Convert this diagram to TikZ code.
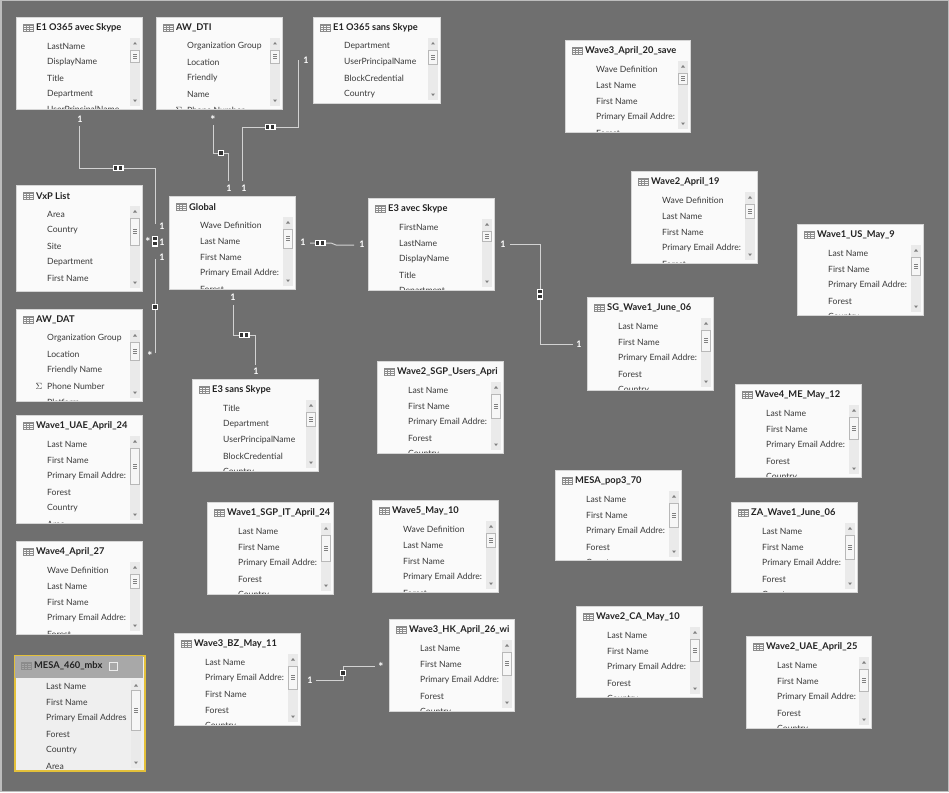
\documentclass[tikz,border=0pt]{standalone}
\usepackage{fontspec}
\setmainfont{Lato}
\usetikzlibrary{calc}
\definecolor{bgc}{HTML}{6F6F6F}
\definecolor{boxf}{HTML}{FAFAFA}
\definecolor{boxd}{HTML}{D6D6D6}
\definecolor{itc}{HTML}{3A3A3A}
\definecolor{ttc}{HTML}{222222}
\definecolor{trkc}{HTML}{EAEAEA}
\definecolor{thc}{HTML}{F6F6F6}
\definecolor{thd}{HTML}{B8B8B8}
\definecolor{lnc}{HTML}{D2D2D2}
\definecolor{mkc}{HTML}{333333}
\definecolor{yel}{HTML}{E3C03A}
\definecolor{hdr}{HTML}{A8A8A8}
\definecolor{mesaf}{HTML}{EFEFEF}
\definecolor{frc}{HTML}{BDBDBD}
\newcommand\sigm{\llap{$\Sigma$\hspace{5pt}}}
\newcommand\tblicon[2]{%
  \draw[icn] (#1,#2-3.5) rectangle ++(10,7.5);
  \fill[icnf] (#1,#2+2.2) rectangle ++(10,1.8);
  \draw[icn] (#1,#2+0.3) -- ++(10,0) (#1,#2-1.7) -- ++(10,0) (#1+3.3,#2-3.5) -- ++(0,7.5) (#1+6.6,#2-3.5) -- ++(0,7.5);}
\newcommand\scrl[4]{% right, top, height, thumb
  \fill[trkc] (#1-12,-#2-21) rectangle (#1-2,-#2-#3+3);
  \fill[gray] (#1-9,-#2-27.5) -- (#1-5,-#2-27.5) -- (#1-7,-#2-25) -- cycle;
  \fill[gray] (#1-9,-#2-#3+9.5) -- (#1-5,-#2-#3+9.5) -- (#1-7,-#2-#3+7) -- cycle;
  \draw[fill=thc,draw=thd,line width=0.7pt] (#1-11.5,-#2-33) rectangle (#1-2.5,-#2-33-#4);
  \draw[gray,line width=0.6pt] (#1-9,{-#2-33-#4/2+2}) -- ++(4,0) (#1-9,{-#2-33-#4/2}) -- ++(4,0) (#1-9,{-#2-33-#4/2-2}) -- ++(4,0);}
\newcommand\tbl[8]{%
  \node[tbox, minimum width=#4pt, minimum height=#5pt, anchor=north west] (#1) at (#2,-#3) {};
  \begin{scope}
    \clip (#2+0.5,-#3-0.5) rectangle (#2+#4-0.5,-#3-#5+0.5);
    \node[ttl] at (#2+20,-#3-11) {#6};
    \foreach \t [count=\i] in {#7} {\node[itm] at (#2+31,{-#3-13.5-16*\i}) {\t};}
  \end{scope}
  \tblicon{#2+7}{-#3-11}
  \scrl{#2+#4}{#3}{#5}{#8}}
\tikzset{
  tbox/.style={draw=boxd, fill=boxf, line width=0.8pt, inner sep=0pt},
  ttl/.style={anchor=west, inner sep=0pt, font=\fontsize{9.3}{10}\selectfont\bfseries, text=ttc},
  itm/.style={anchor=west, inner sep=0pt, font=\fontsize{8.6}{10}\selectfont, text=itc},
  icn/.style={draw=gray!90, line width=0.5pt},
  icnf/.style={fill=gray!90},
  conn/.style={draw=lnc, line width=1pt},
  lbl/.style={inner sep=0pt, text=white, font=\fontsize{9}{9}\selectfont\bfseries},
  stl/.style={inner sep=0pt, text=white, font=\fontsize{12}{12}\selectfont\bfseries, yshift=-3pt},
  pics/mkh/.style={code={\fill[white] (-5.5,-3) rectangle (5.5,3); \fill[mkc] (-4,-1.6) rectangle (-0.7,1.6); \fill[mkc] (0.7,-1.6) rectangle (4,1.6);}},
  pics/mkv/.style={code={\fill[white] (-3,-5.5) rectangle (3,5.5); \fill[mkc] (-1.6,-4) rectangle (1.6,-0.7); \fill[mkc] (-1.6,0.7) rectangle (1.6,4);}},
  pics/mks/.style={code={\fill[white] (-3.2,-3.2) rectangle (3.2,3.2); \fill[mkc] (-1.6,-1.6) rectangle (1.6,1.6);}}
}
\begin{document}
\begin{tikzpicture}[x=1pt,y=1pt]
\useasboundingbox (0,0) rectangle (949,-792);
\fill[bgc] (0,0) rectangle (949,-792);
\draw[frc, line width=1.5pt] (0.75,-0.75) rectangle (948.25,-791.25);

% tables
\tbl{e1a}{16}{17}{126}{92}{E1 O365 avec Skype}{LastName,DisplayName,Title,Department,UserPrincipalName}{12}
\tbl{awdti}{156}{17}{126}{92}{AW\_DTI}{Organization Group,Location,Friendly,Name,\sigm Phone Number}{13}
\tbl{e1s}{313}{17}{127}{86}{E1 O365 sans Skype}{Department,UserPrincipalName,BlockCredential,Country}{14}
\tbl{w3a20}{565}{40}{125}{92}{Wave3\_April\_20\_save}{Wave Definition,Last Name,First Name,Primary Email Addre:,Forest}{11}
\tbl{w2a19}{631}{171}{126}{92}{Wave2\_April\_19}{Wave Definition,Last Name,First Name,Primary Email Addre:,Forest}{14}
\tbl{w1us}{797}{224}{126}{91}{Wave1\_US\_May\_9}{Last Name,First Name,Primary Email Addre:,Forest,Country}{18}
\tbl{vxp}{16}{185}{126}{106}{VxP List}{Area,Country,Site,Department,First Name}{27}
\tbl{global}{169}{196}{126}{93}{Global}{Wave Definition,Last Name,First Name,Primary Email Addre:,Forest}{19}
\tbl{e3a}{368}{198}{126}{92}{E3 avec Skype}{FirstName,LastName,DisplayName,Title,Department}{10}
\tbl{sg}{587}{297}{126}{93}{SG\_Wave1\_June\_06}{Last Name,First Name,Primary Email Addre:,Forest,Country}{21}
\tbl{awdat}{16}{309}{126}{92}{AW\_DAT}{Organization Group,Location,Friendly Name,\sigm Phone Number,Platform}{18}
\tbl{e3s}{192}{379}{126}{92}{E3 sans Skype}{Title,Department,UserPrincipalName,BlockCredential,Country}{14}
\tbl{w2sgp}{377}{361}{126}{92}{Wave2\_SGP\_Users\_Apri}{Last Name,First Name,Primary Email Addre:,Forest,Country}{24}
\tbl{w4me}{735}{384}{126}{93}{Wave4\_ME\_May\_12}{Last Name,First Name,Primary Email Addre:,Forest,Country}{22}
\tbl{w1uae}{16}{415}{126}{108}{Wave1\_UAE\_April\_24}{Last Name,First Name,Primary Email Addre:,Forest,Country,Area}{36}
\tbl{mesap}{555}{470}{126}{90}{MESA\_pop3\_70}{Last Name,First Name,Primary Email Addre:,Forest,Country}{24}
\tbl{za}{731}{502}{126}{90}{ZA\_Wave1\_June\_06}{Last Name,First Name,Primary Email Addre:,Forest,Country}{24}
\tbl{w1sgp}{207}{502}{126}{92}{Wave1\_SGP\_IT\_April\_24}{Last Name,First Name,Primary Email Addre:,Forest,Country}{26}
\tbl{w5}{372}{500}{126}{92}{Wave5\_May\_10}{Wave Definition,Last Name,First Name,Primary Email Addre:,Forest}{14}
\tbl{w4a27}{16}{541}{126}{93}{Wave4\_April\_27}{Wave Definition,Last Name,First Name,Primary Email Addre:,Forest}{14}
\tbl{w2ca}{576}{606}{126}{91}{Wave2\_CA\_May\_10}{Last Name,First Name,Primary Email Addre:,Forest,Country}{22}
\tbl{w2uae}{746}{636}{125}{92}{Wave2\_UAE\_April\_25}{Last Name,First Name,Primary Email Addre:,Forest,Country}{22}
\tbl{bz}{174}{633}{126}{92}{Wave3\_BZ\_May\_11}{Last Name,Primary Email Addre:,First Name,Forest,Country}{23}
\tbl{hk}{389}{619}{125}{92}{Wave3\_HK\_April\_26\_wi}{Last Name,First Name,Primary Email Addre:,Forest,Country}{23}

% selected table MESA_460_mbx
\node[draw=yel, fill=mesaf, line width=2pt, inner sep=0pt, minimum width=130pt, minimum height=115pt, anchor=north west] (mesa) at (14,-655) {};
\fill[hdr] (15,-656) rectangle (143,-678);
\begin{scope}
  \clip (15,-678) rectangle (143,-769);
  \foreach \t [count=\i] in {Last Name,First Name,Primary Email Addres,Forest,Country,Area}
    {\node[itm] at (46,{-670-16*\i}) {\t};}
\end{scope}
\node[ttl] at (34,-666) {MESA\_460\_mbx};
\tblicon{21}{-666}
\draw[white!85!gray, line width=0.7pt] (109,-662) rectangle (117,-670);
\fill[trkc] (131,-680) rectangle (141,-768);
\fill[gray] (134,-686.5) -- (138,-686.5) -- (136,-684) -- cycle;
\fill[gray] (134,-761.5) -- (138,-761.5) -- (136,-764) -- cycle;
\draw[fill=thc,draw=thd,line width=0.7pt] (131.5,-690) rectangle (140.5,-730);
\draw[gray,line width=0.6pt] (134,-708) -- ++(4,0) (134,-710) -- ++(4,0) (134,-712) -- ++(4,0);

% connector end points
\coordinate (a1) at (79,-126);   \coordinate (b1) at (155,-224);
\coordinate (a2) at (213,-125);  \coordinate (b2) at (228,-181);
\coordinate (a3) at (298,-60);   \coordinate (b3) at (242,-181);
\coordinate (a4) at (310,-243);  \coordinate (b4) at (354,-245);
\coordinate (a5) at (510,-244);  \coordinate (b5) at (573,-344);
\coordinate (a6) at (233,-305);  \coordinate (b6) at (255,-365);
\coordinate (a8) at (155,-353);  \coordinate (b8) at (155,-259);
\coordinate (a9) at (316,-680);  \coordinate (b9) at (375,-666);

% connectors
\draw[conn] (a1) |- (155,-168) -- (b1);
\draw[conn] (a2) |- (228,-153) -- (b2);
\draw[conn] (a3) |- (242,-127) -- (b3);
\draw[conn] (a4) -- (331,-243) -- (336,-245) -- (b4);
\draw[conn] (a5) -| (540,-344) -- (b5);
\draw[conn] (a6) |- (255,-335) -- (b6);
\draw[conn] (a8) -- (b8);
\draw[conn] (a9) -| (343,-666) -- (b9);

% cardinality markers
\pic at (118,-168) {mkh};
\pic at (221,-153) {mks};
\pic at (270,-127) {mkh};
\pic at (320,-243) {mkh};
\pic at (540,-294) {mkv};
\pic at (244,-335) {mkh};
\pic at (155,-241) {mkv};
\pic at (155,-307) {mks};
\pic at (343,-673) {mks};

% cardinality labels
\node[lbl] (l1) at (80,-119) {1};
\node[lbl] (l2) at (162,-226) {1};
\node[stl] (l3) at (213,-117) {*};
\node[lbl] (l4) at (229,-188) {1};
\node[lbl] (l5) at (306,-60) {1};
\node[lbl] (l6) at (244,-188) {1};
\node[lbl] (l7) at (303,-242) {1};
\node[lbl] (l8) at (362,-244) {1};
\node[lbl] (l9) at (503,-244) {1};
\node[lbl] (l10) at (579,-344) {1};
\node[lbl] (l11) at (233,-297) {1};
\node[lbl] (l12) at (256,-371) {1};
\node[stl] (l13) at (148,-239) {*};
\node[lbl] (l14) at (162,-242) {1};
\node[lbl] (l15) at (162,-257) {1};
\node[stl] (l16) at (150,-353) {*};
\node[lbl] (l17) at (310,-680) {1};
\node[stl] (l18) at (381,-664) {*};
\end{tikzpicture}
\end{document}
